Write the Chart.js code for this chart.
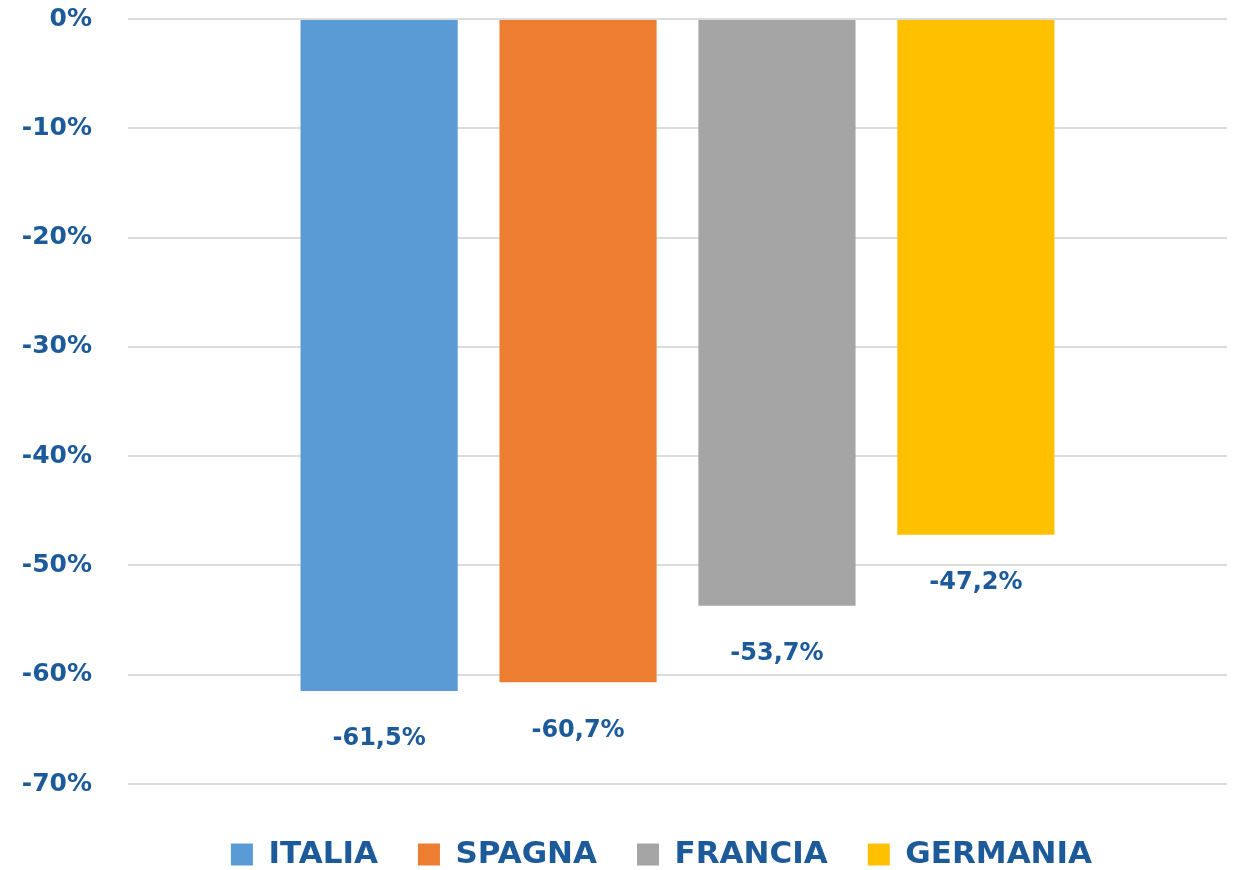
<!DOCTYPE html>
<html>
<head>
<meta charset="utf-8">
<script src="https://cdn.jsdelivr.net/npm/chart.js@4.4.1/dist/chart.umd.min.js"></script>
<style>
  html, body { margin: 0; padding: 0; background: #ffffff; }
  #wrap { width: 1238px; height: 870px; }
</style>
</head>
<body>
<div id="wrap"><canvas id="c" width="1238" height="870"></canvas></div>
<script>
// ---- data ----
const categories = [""];
const seriesNames = ["ITALIA", "SPAGNA", "FRANCIA", "GERMANIA"];
const seriesValues = [[-61.5], [-60.7], [-53.7], [-47.2]];
const seriesColors = ["#5B9BD5", "#ED7D31", "#A5A5A5", "#FFC000"];
const yTicks = [0, -10, -20, -30, -40, -50, -60, -70];

const textColor = "#1C5A99";
const fontFamily = '"DejaVu Sans", "Liberation Sans", sans-serif';

const datasets = seriesNames.map((name, i) => ({
  label: name,
  data: seriesValues[i],
  backgroundColor: seriesColors[i],
  borderWidth: 0,
  categoryPercentage: 0.724,
  barPercentage: 0.79
}));

const valueLabels = {
  id: "valueLabels",
  afterDatasetsDraw(chart) {
    const ctx = chart.ctx;
    ctx.save();
    ctx.font = "bold 24px " + fontFamily;
    ctx.fillStyle = textColor;
    ctx.textAlign = "center";
    ctx.textBaseline = "middle";
    chart.data.datasets.forEach((ds, di) => {
      const meta = chart.getDatasetMeta(di);
      meta.data.forEach((bar, j) => {
        const v = ds.data[j];
        const txt = v.toFixed(1).replace(".", ",") + "%";
        ctx.fillText(txt, bar.x, bar.y + 48);
      });
    });
    ctx.restore();
  }
};

const legendShift = {
  id: "legendShift",
  afterLayout(chart) {
    if (chart.legend) {
      chart.legend.left += 38;
      chart.legend.right += 38;
    }
  }
};

new Chart(document.getElementById("c"), {
  type: "bar",
  data: { labels: categories, datasets: datasets },
  plugins: [valueLabels, legendShift],
  options: {
    responsive: false,
    devicePixelRatio: 1,
    animation: false,
    layout: { padding: { left: 20, right: 11, top: 19, bottom: -10 } },
    plugins: {
      tooltip: { enabled: false },
      legend: {
        position: "bottom",
        labels: {
          boxWidth: 22,
          boxHeight: 22,
          padding: 40,
          color: textColor,
          font: { family: fontFamily, size: 31, weight: "bold" }
        }
      }
    },
    scales: {
      x: {
        grid: { display: true, drawOnChartArea: false, drawTicks: true, tickLength: 15, color: "rgba(0,0,0,0)" },
        border: { display: false },
        ticks: { display: false }
      },
      y: {
        min: -70,
        max: 0,
        afterFit(scale) { scale.width = 108; },
        afterBuildTicks(scale) { scale.ticks = yTicks.map(v => ({ value: v })); },
        grid: { color: "#dcdcdc", lineWidth: 2, drawTicks: true, tickLength: 32, tickColor: "rgba(0,0,0,0)" },
        border: { display: false },
        ticks: {
          padding: 4,
          color: textColor,
          font: { family: fontFamily, size: 25, weight: "bold" },
          callback: (v) => v + "%"
        }
      }
    }
  }
});
</script>
</body>
</html>
